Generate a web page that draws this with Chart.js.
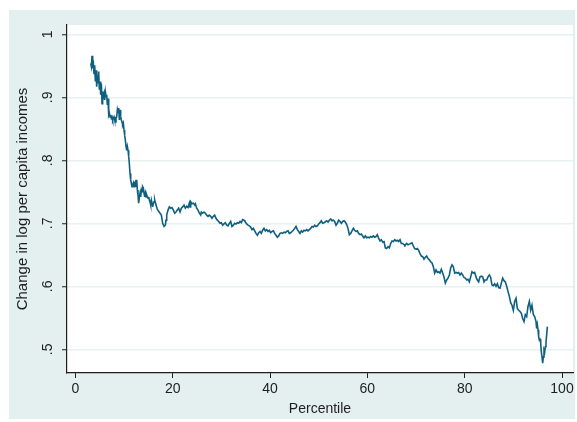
<!DOCTYPE html>
<html>
<head>
<meta charset="utf-8">
<title>Change in log per capita incomes by percentile</title>
<script src="https://cdn.jsdelivr.net/npm/chart.js@4/dist/chart.umd.min.js"></script>
<style>
  html, body { margin: 0; padding: 0; background: #ffffff; }
  #wrap { width: 577px; height: 422px; }
</style>
</head>
<body>
<div id="wrap"><canvas id="chart" width="577" height="422"></canvas></div>
<script>
// Percentile of the income distribution
const percentile = [
  3.14, 3.27, 3.41, 3.55, 3.69, 3.82, 3.96, 4.10, 4.23, 4.37, 4.51, 4.64, 4.78, 4.92, 5.06, 5.19,
  5.33, 5.47, 5.60, 5.74, 5.88, 6.01, 6.15, 6.29, 6.43, 6.56, 6.70, 6.84, 6.97, 7.11, 7.25, 7.38,
  7.52, 7.66, 7.80, 7.93, 8.07, 8.21, 8.34, 8.48, 8.62, 8.75, 8.89, 9.03, 9.17, 9.30, 9.44, 9.58,
  9.71, 9.85, 9.99, 10.12, 10.26, 10.40, 10.54, 10.67, 10.81, 10.95, 11.08, 11.22, 11.36, 11.49,
  11.63, 11.77, 11.91, 12.04, 12.18, 12.32, 12.45, 12.59, 12.73, 12.86, 13.00, 13.14, 13.28, 13.41,
  13.55, 13.69, 13.82, 13.96, 14.10, 14.23, 14.37, 14.51, 14.65, 14.78, 14.92, 15.06, 15.19, 15.33,
  15.47, 15.60, 15.74, 15.88, 16.02, 16.15, 16.29, 16.43, 16.56, 16.70, 16.84,
  17.39, 17.66, 17.93, 18.21, 18.48, 18.62, 18.76, 19.03, 19.30, 19.58, 19.85, 20.13, 20.40, 20.67,
  20.95, 21.22, 21.50, 21.77, 22.04, 22.32, 22.59, 22.87, 23.14, 23.41, 23.55, 23.69, 23.96, 24.24,
  24.51, 24.65, 24.92, 25.20, 25.47, 25.74, 25.88, 26.15, 26.43, 26.70, 26.98, 27.25, 27.52, 27.80,
  28.07, 28.35, 28.62, 28.89, 29.17, 29.44, 29.72, 29.99, 30.26, 30.54, 30.81, 31.09, 31.36, 31.63,
  31.91, 32.18, 32.46, 32.73, 33.00, 33.28, 33.55, 33.83, 34.10, 34.37, 34.65, 34.85,
  35.20, 35.47, 35.74, 36.02, 36.29, 36.57, 36.84, 37.11, 37.39, 37.66, 37.94, 38.21, 38.48, 38.76,
  39.03, 39.31, 39.58, 39.85, 40.13, 40.40, 40.68, 40.95, 41.22, 41.50, 41.77, 42.05, 42.32, 42.59,
  42.87, 43.14, 43.42, 43.69, 43.96, 44.24, 44.51, 44.79, 45.06, 45.33, 45.61, 45.88, 46.16, 46.43,
  46.70, 46.98, 47.25, 47.53, 47.80, 48.07, 48.35, 48.62, 48.90, 49.17, 49.44, 49.72, 49.99, 50.27,
  50.54, 50.81, 51.09, 51.29,
  51.64, 51.91, 52.19, 52.46, 52.73, 53.01, 53.28, 53.56, 53.83, 54.10, 54.38, 54.65, 54.93, 55.20,
  55.47, 55.75, 56.02, 56.30, 56.57, 56.84, 57.12, 57.39, 57.67, 57.94, 58.21, 58.49, 58.76, 59.04,
  59.31, 59.58, 59.86, 60.13, 60.41, 60.68, 60.95, 61.23, 61.50, 61.78, 62.05, 62.32, 62.60, 62.87,
  63.15, 63.42, 63.69, 63.97, 64.24, 64.52, 64.79, 65.06, 65.34, 65.61, 65.89, 66.16, 66.43, 66.71,
  66.98, 67.26, 67.53, 67.73,
  68.08, 68.35, 68.63, 68.90, 69.17, 69.45, 69.72, 70.00, 70.27, 70.54, 70.82, 71.09, 71.37, 71.64,
  71.91, 72.19, 72.46, 72.74, 73.01, 73.28, 73.56, 73.83, 74.11, 74.38, 74.65, 74.93, 75.20, 75.48,
  75.75, 76.02, 76.30, 76.57, 76.85, 77.12, 77.39, 77.67, 77.94, 78.22, 78.49, 78.76, 79.04, 79.31,
  79.59, 79.86, 80.13, 80.41, 80.68, 80.96, 81.23, 81.50, 81.78, 82.05, 82.33, 82.60, 82.87, 83.15,
  83.42, 83.70, 83.97, 84.18,
  84.52, 84.79, 85.07, 85.34, 85.61, 85.89, 86.16, 86.44, 86.71, 86.98, 87.26, 87.53, 87.81, 88.08,
  88.35, 88.63, 88.90, 89.18, 89.45, 89.72, 90.00, 90.27, 90.55, 90.82, 91.09, 91.37, 91.64, 91.92,
  92.19, 92.46, 92.74, 93.01, 93.29, 93.56, 93.83, 94.11, 94.38, 94.66, 94.79, 94.93, 95.07, 95.20,
  95.34, 95.48, 95.62, 95.75, 95.89, 96.03, 96.16, 96.30, 96.44, 96.57, 96.71, 96.85, 96.99
];

// Change in log per capita income at each percentile
const logIncomeChange = [
  .954, .949, .966, .951, .954, .938, .951, .925, .943, .917, .935, .922, .941, .912, .925, .904,
  .922, .890, .909, .901, .906, .896, .909, .901, .904, .888, .898, .872, .875, .869, .872, .867,
  .869, .864, .867, .869, .864, .861, .867, .869, .880, .875, .883, .864, .880, .869, .864, .861,
  .856, .859, .848, .840, .832, .822, .816, .822, .816, .806, .795, .779, .769, .764,
  .758, .761, .764, .758, .764, .766, .758, .769, .753, .745, .732, .742, .748, .742,
  .753, .750, .758, .756, .748, .742, .748, .742, .745, .742, .740, .742, .737, .734,
  .729, .737, .732, .726, .732, .734, .737, .732, .729, .726, .722,
  .716, .713, .700, .695, .697, .705, .713, .721, .726, .724, .725, .721, .716, .718,
  .721, .724, .718, .724, .726, .729, .724, .727, .725, .732, .726, .734, .731, .732,
  .729, .731, .724, .721, .716, .713, .718, .716, .718, .716, .713, .711, .713, .711,
  .708, .711, .713, .708, .705, .703, .700, .701, .697, .699, .701, .697, .696, .700,
  .703, .695, .697, .700, .699, .701, .700, .703, .701, .706, .705, .703,
  .699, .697, .696, .694, .690, .692, .688, .684, .681, .685, .687, .684, .689, .692,
  .688, .690, .687, .689, .685, .687, .688, .684, .681, .678, .680, .684, .685, .684,
  .686, .685, .687, .688, .684, .685, .687, .689, .692, .695, .690, .687, .684, .688,
  .686, .689, .688, .690, .688, .690, .692, .695, .694, .697, .695, .696, .699, .701,
  .704, .700, .701, .701,
  .704, .702, .705, .707, .704, .705, .703, .697, .700, .705, .703, .700, .703, .704,
  .702, .698, .692, .682, .684, .688, .692, .689, .687, .688, .684, .682, .683, .680,
  .677, .680, .677, .678, .677, .679, .678, .680, .678, .679, .682, .676, .672, .674,
  .670, .671, .661, .660, .663, .661, .668, .672, .671, .674, .672, .673, .671, .674,
  .668, .668, .666, .665,
  .668, .666, .667, .668, .669, .664, .660, .659, .660, .657, .652, .648, .647, .643,
  .646, .648, .644, .642, .639, .637, .631, .621, .626, .622, .623, .621, .627, .621,
  .615, .605, .610, .613, .618, .629, .634, .631, .621, .622, .621, .622, .618, .621,
  .618, .614, .613, .610, .611, .607, .615, .623, .621, .622, .615, .610, .607, .615,
  .616, .615, .607, .610,
  .610, .615, .618, .614, .602, .601, .604, .600, .604, .598, .597, .605, .613, .609,
  .607, .600, .592, .584, .574, .570, .562, .576, .581, .565, .562, .560, .557, .549,
  .544, .555, .552, .568, .576, .562, .570, .555, .552, .544, .533, .539, .531, .520,
  .515, .516, .510, .496, .488, .478, .488, .499, .496, .504, .512, .523, .536
];

// Axis ticks and their printed labels
const xTickValues = [0, 20, 40, 60, 80, 100];
const yTickValues = [0.5, 0.6, 0.7, 0.8, 0.9, 1.0];
const yTickLabels = ['.5', '.6', '.7', '.8', '.9', '1'];

const points = percentile.map((p, i) => ({ x: p, y: logIncomeChange[i] }));

const INK = '#1e1e1e';
const FONT = 'Liberation Sans, Arial, Helvetica, sans-serif';

// Light outer panel with a white plot region on top
const panel = {
  id: 'panel',
  beforeDraw(chart) {
    const { ctx, chartArea: a, width, height } = chart;
    ctx.save();
    ctx.fillStyle = '#ffffff';
    ctx.fillRect(0, 0, width, height);
    ctx.fillStyle = '#e3f0ef';
    ctx.fillRect(9, 10, width - 11, height - 13);
    ctx.fillStyle = '#ffffff';
    ctx.fillRect(a.left, a.top, a.right - a.left, a.bottom - a.top);
    ctx.restore();
  }
};

new Chart(document.getElementById('chart'), {
  type: 'line',
  data: {
    datasets: [{
      data: points,
      borderColor: '#0f5f80',
      borderWidth: 1.6,
      pointRadius: 0,
      tension: 0,
      fill: false
    }]
  },
  options: {
    responsive: false,
    animation: false,
    events: [],
    layout: { padding: { left: 9, top: 25, right: 4, bottom: 4 } },
    plugins: { legend: { display: false }, tooltip: { enabled: false } },
    scales: {
      x: {
        type: 'linear',
        min: -1.73,
        max: 102.26,
        afterBuildTicks: (s) => { s.ticks = xTickValues.map(v => ({ value: v })); },
        afterFit: (s) => { s.height = 45; },
        grid: {
          drawOnChartArea: false,
          drawTicks: true,
          tickLength: 5,
          tickColor: INK,
          tickWidth: 1
        },
        border: { display: true, color: INK, width: 1.2 },
        ticks: {
          color: INK,
          font: { family: FONT, size: 14 },
          padding: 3,
          maxRotation: 0,
          minRotation: 0,
          callback: (v) => String(v)
        },
        title: {
          display: true,
          text: 'Percentile',
          color: INK,
          font: { family: FONT, size: 14 },
          padding: { top: 0, bottom: 0 }
        }
      },
      y: {
        type: 'linear',
        min: 0.4624,
        max: 1.0148,
        afterBuildTicks: (s) => { s.ticks = yTickValues.map(v => ({ value: v })); },
        afterFit: (s) => { s.width = 58; },
        grid: {
          color: '#e6f1f0',
          lineWidth: 1.5,
          drawTicks: true,
          tickLength: 5,
          tickColor: INK,
          tickWidth: 1
        },
        border: { display: true, color: INK, width: 1.2 },
        ticks: {
          color: INK,
          font: { family: FONT, size: 14 },
          padding: 8,
          minRotation: 90,
          maxRotation: 90,
          crossAlign: 'center',
          callback: (v) => {
            const i = yTickValues.findIndex(t => Math.abs(t - v) < 1e-9);
            return i >= 0 ? yTickLabels[i] : '';
          }
        },
        title: {
          display: true,
          text: 'Change in log per capita incomes',
          color: INK,
          font: { family: FONT, size: 15 },
          padding: { top: 5, bottom: 0 }
        }
      }
    }
  },
  plugins: [panel]
});
</script>
</body>
</html>
